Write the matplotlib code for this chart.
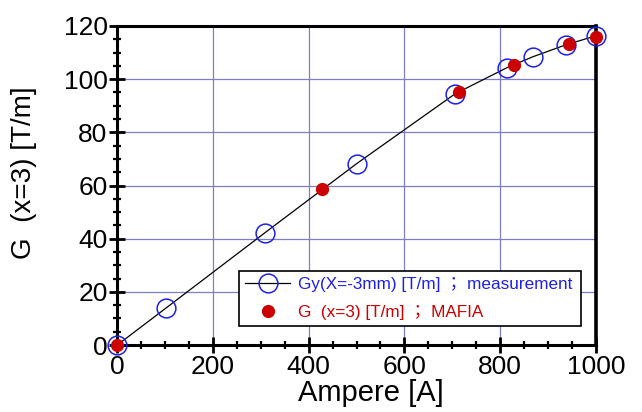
import matplotlib
matplotlib.use("Agg")
import matplotlib.pyplot as plt
from matplotlib.ticker import MultipleLocator

plt.rcParams['font.family'] = ['Liberation Sans', 'Noto Sans CJK JP', 'DejaVu Sans']

# measurement
meas_x = [0, 101, 309, 500, 706, 814, 868, 937, 1000]
meas_y = [0, 13.8, 42.3, 68.2, 94.5, 104.3, 108.4, 112.9, 116.3]
# MAFIA
mafia_x = [0, 428, 714, 829, 943, 1000]
mafia_y = [0, 58.6, 95.2, 105.2, 113.1, 116.0]

meas_label = "Gy(X=-3mm) [T/m] ； measurement"
mafia_label = "G  (x=3) [T/m] ； MAFIA"
xlabel = "Ampere [A]"
ylabel = "G  (x=3) [T/m]"

fig = plt.figure(figsize=(6.42, 4.12), dpi=100)
ax = fig.add_axes([0.1827, 0.1626, 0.7454, 0.7743])

ax.plot(meas_x, meas_y, color='black', lw=0.9, marker='o', ms=13.5,
        mfc='none', mec='#1f1fe6', mew=1.1, label=meas_label, zorder=3,
        clip_on=False)
ax.plot(mafia_x, mafia_y, ls='none', marker='o', ms=8.5, color='#cc0000',
        label=mafia_label, zorder=4, clip_on=False)

ax.set_xlim(0, 1000)
ax.set_ylim(0, 120)
ax.xaxis.set_major_locator(MultipleLocator(200))
ax.xaxis.set_minor_locator(MultipleLocator(50))
ax.yaxis.set_major_locator(MultipleLocator(20))
ax.yaxis.set_minor_locator(MultipleLocator(5))
ax.grid(True, which='major', color='#7d7dc8', lw=0.9, zorder=0)
ax.set_axisbelow(True)

for s in ax.spines.values():
    s.set_linewidth(2.2)
ax.spines['right'].set_linewidth(2.6)

ax.tick_params(which='major', direction='inout', length=12, width=2,
               labelsize=19, pad=1, top=False, right=False)
ax.tick_params(which='minor', direction='inout', length=6, width=1.6,
               top=False, right=False)

ax.set_xlabel(xlabel, fontsize=21)
ax.xaxis.set_label_coords(0.53, -0.105)
ax.set_ylabel(ylabel, fontsize=20)
ax.yaxis.set_label_coords(-0.168, 0.54)

leg = ax.legend(loc='lower left', bbox_to_anchor=(0.255, 0.06, 0.715, 0.19),
                mode='expand', fontsize=12.3, frameon=True, fancybox=False,
                edgecolor='black', framealpha=1, handlelength=2.6,
                borderpad=0.35, labelspacing=0.75, handletextpad=0.5,
                borderaxespad=0)
leg.get_frame().set_linewidth(1.2)
leg.texts[0].set_color('#1f1fe6')
leg.texts[1].set_color('#cc0000')

fig.savefig("out.png", dpi=100)
